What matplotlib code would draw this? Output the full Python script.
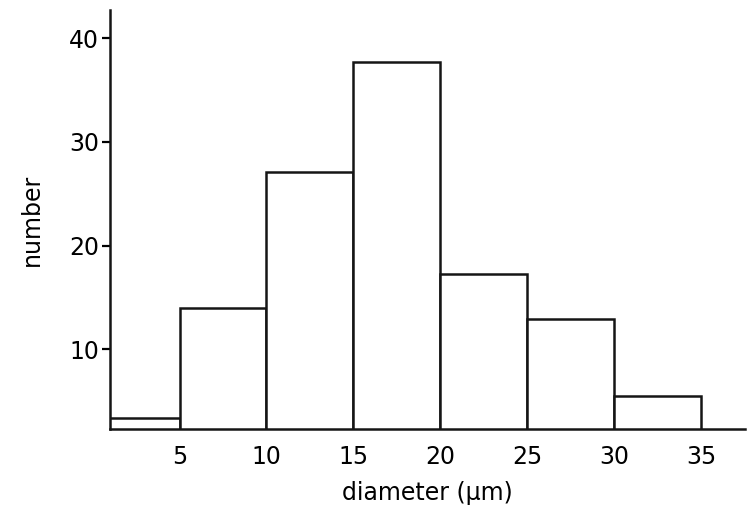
import matplotlib.pyplot as plt

# histogram bins (left edges, um) and counts
bin_left = [0, 5, 10, 15, 20, 25, 30]
counts = [3.4, 14.0, 27.1, 37.7, 17.3, 12.9, 5.5]
x_ticks = [5, 10, 15, 20, 25, 30, 35]
y_ticks = [10, 20, 30, 40]

plt.rcParams['font.family'] = ['DejaVu Sans']

fig = plt.figure(figsize=(7.53, 5.11), dpi=100)
ax = fig.add_axes([0.146, 0.160, 0.843, 0.820])

ax.bar(bin_left, counts, width=5, align='edge', bottom=0,
       facecolor='white', edgecolor='#151515', linewidth=1.8, clip_on=True)

ax.set_xlim(1.0, 37.5)
ax.set_ylim(2.3, 42.7)

for s in ['top', 'right']:
    ax.spines[s].set_visible(False)
for s in ['left', 'bottom']:
    ax.spines[s].set_linewidth(1.8)
    ax.spines[s].set_color('#151515')

ax.set_xticks(x_ticks)
ax.set_xticklabels([str(v) for v in x_ticks])
ax.set_yticks(y_ticks)
ax.set_yticklabels([str(v) for v in y_ticks])
ax.tick_params(axis='x', length=0, pad=11, labelsize=17)
ax.tick_params(axis='y', length=6, width=1.6, pad=2, labelsize=17)

ax.set_xlabel('diameter (μm)', fontsize=17, labelpad=9)
ax.set_ylabel('number', fontsize=17, labelpad=18)

fig.savefig('out.png', dpi=100)
